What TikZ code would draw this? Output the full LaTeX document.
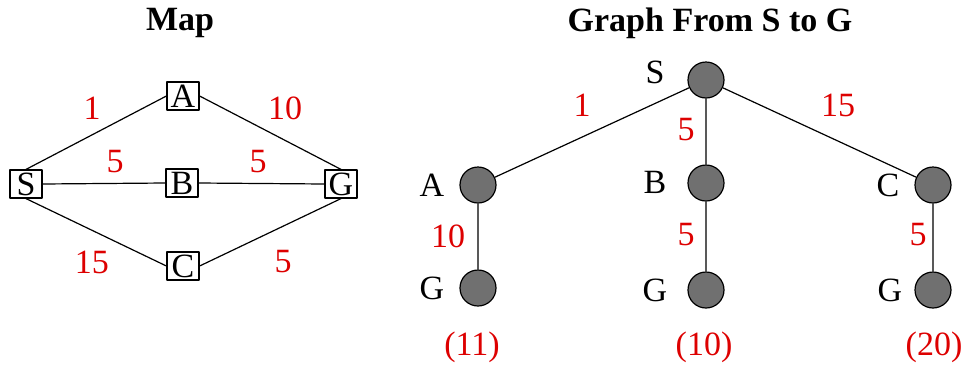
\documentclass[tikz,border=0pt]{standalone}
\usepackage{fontspec}
\setmainfont{Liberation Serif}
\definecolor{wred}{HTML}{DD0000}
\definecolor{dot}{HTML}{707070}
\tikzset{fig/.style={x=0.5pt,y=-0.5pt,line join=round,font=\fontsize{17}{19}\selectfont},
  box/.style={draw,line width=0.6pt,minimum width=16pt,minimum height=14pt,inner sep=0pt},
  vtx/.style={circle,draw,fill=dot,line width=0.6pt,minimum size=18pt,inner sep=0pt},
  edge/.style={line width=0.6pt},
  wt/.style={text=wred},
  ttl/.style={font=\fontsize{17}{19}\selectfont\bfseries}}
\begin{document}
\begin{tikzpicture}[fig]
  \useasboundingbox (0,0) rectangle (966,365);
  % map
  \node[ttl] (tmap) at (180,23) {Map};
  \node[box] (mS) at (26,184) {S};\node[box] (mA) at (183,96) {A};\node[box] (mB) at (182,183) {B};
  \node[box] (mC) at (183,266) {C};\node[box] (mG) at (341,184) {G};
  \draw[edge] (mS.north)--(mA.west) (mA.east)--(mG.north) (mS.east)--(mB.west) (mB.east)--(mG.west)
    (mS.south)--(mC.west) (mC.east)--(mG.south);
  \foreach \n/\p/\t in {mw1/{92,108}/1,mw2/{285,108}/10,mw3/{115,162}/5,mw4/{258,162}/5,mw5/{92,262}/15,mw6/{283,262}/5}
    \node[wt] (\n) at (\p) {\t};
  % graph
  \node[ttl] (tgraph) at (710,23) {Graph From S to G};
  \foreach \n/\p/\l/\q in {S/{706,80}/S/{655,72},A/{478,185}/A/{432,185},B/{706,183}/B/{655,182},C/{933,185}/C/{888,185},
      GA/{478,288}/G/{432,288},GB/{706,290}/G/{655,290},GC/{933,290}/G/{890,290}}
    {\node[vtx] (v\n) at (\p) {};\node (l\n) at (\q) {\l};}
  \draw[edge] (vS)--(vA) (vS)--(vB) (vS)--(vC) (vA)--(vGA) (vB)--(vGB) (vC)--(vGC);
  \foreach \n/\p/\t in {gw1/{582,105}/1,gw2/{686,130}/5,gw3/{838,105}/15,gw4/{448,236}/10,gw5/{686,235}/5,gw6/{918,235}/5,
      tot1/{472,347}/(11),tot2/{704,347}/(10),tot3/{934,347}/(20)}
    \node[wt] (\n) at (\p) {\t};
\end{tikzpicture}
\end{document}
